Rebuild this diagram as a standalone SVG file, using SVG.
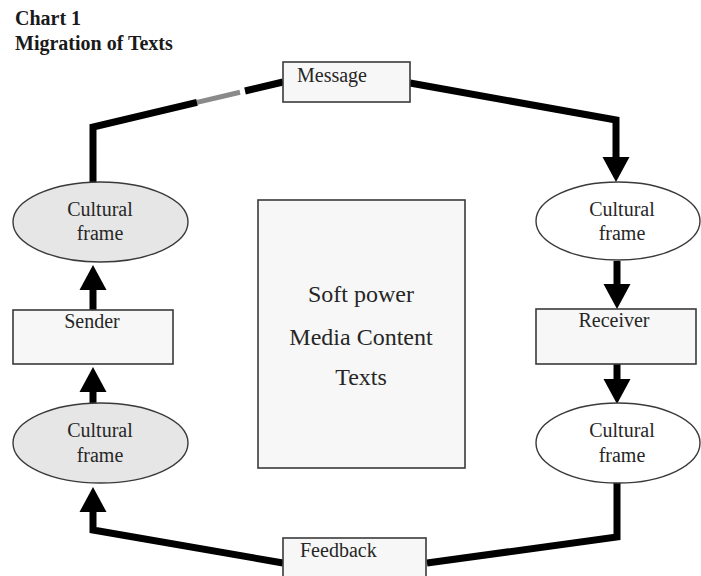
<svg xmlns="http://www.w3.org/2000/svg" width="701" height="576" viewBox="0 0 701 576">
<style>
text{font-family:"Liberation Serif","Times New Roman",serif;fill:#262626}
.lbl{font-size:20px}
.ctr{text-anchor:middle}
.ttl{font-size:20px;font-weight:bold;fill:#1a1a1a}
.box{fill:#f7f7f7;stroke:#3a3a3a;stroke-width:1.6}
.ellg{fill:#e6e6e6;stroke:#3a3a3a;stroke-width:1.4}
.ellw{fill:#ffffff;stroke:#3a3a3a;stroke-width:1.4}
.con{fill:none;stroke:#000;stroke-width:7;stroke-linejoin:miter}
.big{font-size:24px}
</style>
<defs>
<marker id="ah" markerUnits="userSpaceOnUse" markerWidth="26" markerHeight="28" refX="0" refY="13.5" orient="auto" overflow="visible">
<path d="M0,0 L25,13.5 L0,27 z" fill="#000"/>
</marker>
</defs>
<rect width="701" height="576" fill="#fff"/>
<g id="title">
<text class="ttl" x="15" y="25">Chart 1</text>
<text class="ttl" x="15" y="50">Migration of Texts</text>
</g>
<g id="connectors">
<path class="con" d="M283,82 L245,91"/>
<path d="M240,92.2 L197,102.4" fill="none" stroke="#8a8a8a" stroke-width="5"/>
<path class="con" d="M197,102.4 L93,127 L93,183"/>
<path class="con" d="M410,83 L616,120 L616,157" marker-end="url(#ah)"/>
<path class="con" d="M617,261 L617,284" marker-end="url(#ah)"/>
<path class="con" d="M617,364 L617,379" marker-end="url(#ah)"/>
<path class="con" d="M617,483 L617,537 L427,563"/>
<path class="con" d="M283,563 L93,530 L93,512" marker-end="url(#ah)"/>
<path class="con" d="M93,403 L93,392" marker-end="url(#ah)"/>
<path class="con" d="M93,310 L93,290" marker-end="url(#ah)"/>
</g>
<g id="message">
<rect class="box" x="283" y="62" width="127" height="40"/>
<text class="lbl" x="297" y="82">Message</text>
</g>
<g id="cf-left-top">
<ellipse class="ellg" cx="100.5" cy="222" rx="87.5" ry="40"/>
<text class="lbl ctr" x="100" y="216">Cultural</text>
<text class="lbl ctr" x="100" y="240">frame</text>
</g>
<g id="sender">
<rect class="box" x="13" y="310" width="160" height="54"/>
<text class="lbl ctr" x="92" y="328">Sender</text>
</g>
<g id="cf-left-bottom">
<ellipse class="ellg" cx="100.5" cy="443" rx="87.5" ry="40"/>
<text class="lbl ctr" x="100" y="437">Cultural</text>
<text class="lbl ctr" x="100" y="462">frame</text>
</g>
<g id="center">
<rect class="box" x="258" y="200" width="207" height="268"/>
<text class="big ctr" x="361" y="302">Soft power</text>
<text class="big ctr" x="361" y="345">Media Content</text>
<text class="big ctr" x="361" y="385">Texts</text>
</g>
<g id="cf-right-top">
<ellipse class="ellw" cx="618" cy="221" rx="82" ry="39"/>
<text class="lbl ctr" x="622" y="216">Cultural</text>
<text class="lbl ctr" x="622" y="240">frame</text>
</g>
<g id="receiver">
<rect class="box" x="536" y="309" width="160" height="55"/>
<text class="lbl ctr" x="614" y="327">Receiver</text>
</g>
<g id="cf-right-bottom">
<ellipse class="ellw" cx="618" cy="443" rx="82" ry="40"/>
<text class="lbl ctr" x="622" y="437">Cultural</text>
<text class="lbl ctr" x="622" y="462">frame</text>
</g>
<g id="feedback">
<rect class="box" x="283" y="538" width="143" height="45"/>
<text class="lbl" x="300" y="557">Feedback</text>
</g>
</svg>
